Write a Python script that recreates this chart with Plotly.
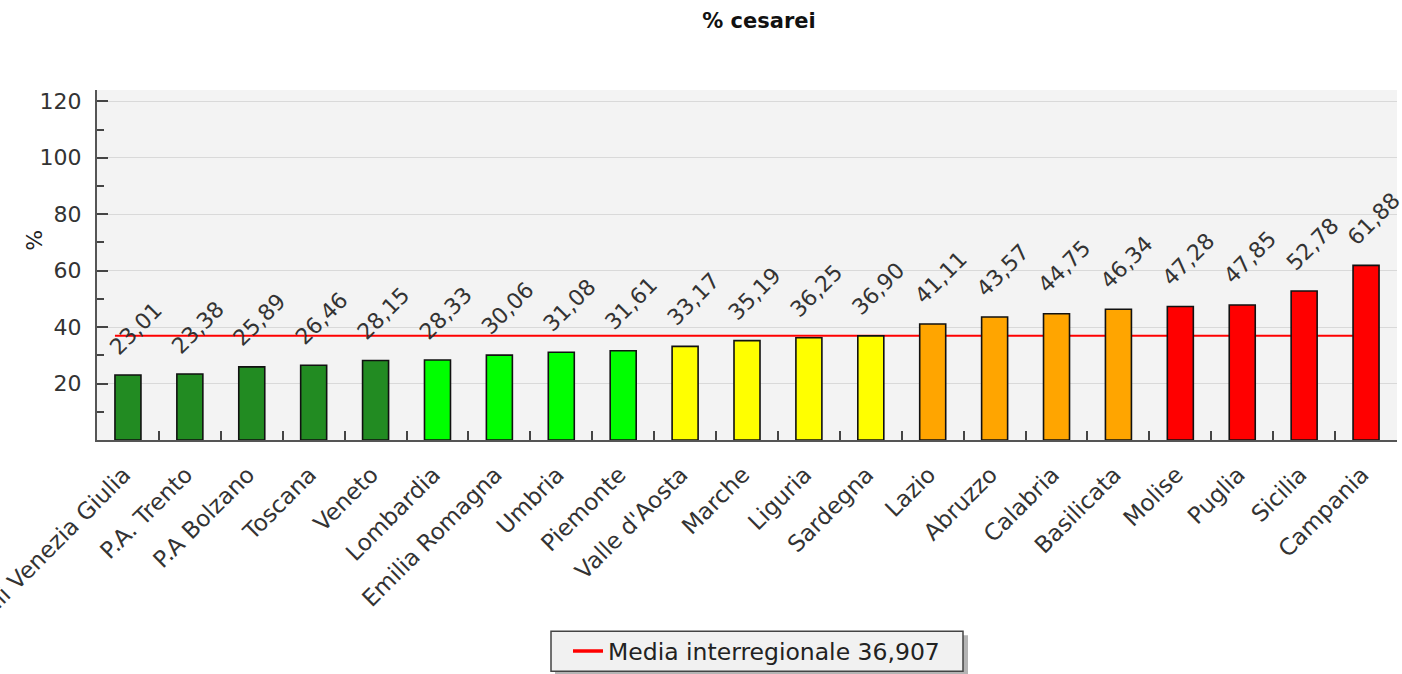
import plotly.graph_objects as go

categories = ["Friuli Venezia Giulia", "P.A. Trento", "P.A Bolzano", "Toscana", "Veneto",
              "Lombardia", "Emilia Romagna", "Umbria", "Piemonte", "Valle d'Aosta",
              "Marche", "Liguria", "Sardegna", "Lazio", "Abruzzo", "Calabria",
              "Basilicata", "Molise", "Puglia", "Sicilia", "Campania"]
values = [23.01, 23.38, 25.89, 26.46, 28.15, 28.33, 30.06, 31.08, 31.61, 33.17,
          35.19, 36.25, 36.90, 41.11, 43.57, 44.75, 46.34, 47.28, 47.85, 52.78, 61.88]
bar_colors = ["#228B22"] * 5 + ["#00FF00"] * 4 + ["#FFFF00"] * 4 + ["#FFA500"] * 4 + ["#FF0000"] * 4
mean_value = 36.907
mean_label = "Media interregionale 36,907"
y_tickvals = [20, 40, 60, 80, 100, 120]

FONT = "DejaVu Sans"
BAR_W = 0.42
# plot area in pixels
PL, PR, PT, PB = 97, 1397, 90, 440.5
PW, PH = PR - PL, PB - PT


def px_x(x):
    return (x - PL) / PW


def px_y(y):
    return (PB - y) / PH


def it(v, d=2):
    return f"{v:.{d}f}".replace(".", ",")


fig = go.Figure()
fig.add_trace(go.Bar(
    x=categories, y=values, width=BAR_W,
    marker=dict(color=bar_colors, line=dict(color="#111111", width=1.6)),
    showlegend=False, hoverinfo="x+y",
))
fig.add_trace(go.Scatter(
    x=[categories[0]], y=[None], mode="lines", name=mean_label,
    line=dict(color="#FF0000", width=3.5), showlegend=True,
))

fig.add_shape(type="line", xref="x", yref="y",
              x0=0 - BAR_W / 2, x1=len(categories) - 1 - BAR_W / 2,
              y0=mean_value, y1=mean_value,
              line=dict(color="#FF0000", width=2), layer="below")

for i, v in enumerate(values):
    fig.add_annotation(x=i, y=v, xref="x", yref="y", text=it(v), showarrow=False,
                       textangle=-45, xanchor="left", yanchor="bottom",
                       xshift=-26, yshift=13,
                       font=dict(family=FONT, size=22, color="#333333"))

# y axis title
fig.add_annotation(x=px_x(35), y=px_y(241), xref="paper", yref="paper", text="%",
                   showarrow=False, textangle=-90, xanchor="center", yanchor="middle",
                   font=dict(family=FONT, size=22, color="#222222"))

# legend frame + shadow
fig.add_shape(type="rect", xref="paper", yref="paper",
              x0=px_x(555), x1=px_x(968), y0=px_y(676), y1=px_y(636),
              fillcolor="#b4b4b4", line=dict(width=0), layer="above")
fig.add_shape(type="rect", xref="paper", yref="paper",
              x0=px_x(551), x1=px_x(963), y0=px_y(672), y1=px_y(632),
              fillcolor="#f1f1f1", line=dict(color="#444444", width=1.5), layer="above")

fig.update_layout(
    width=1402, height=674,
    margin=dict(l=PL, r=1402 - PR, t=PT, b=674 - PB, autoexpand=False),
    paper_bgcolor="white", plot_bgcolor="#f3f3f3",
    font=dict(family=FONT, size=22, color="#333333"),
    title=dict(text="<b>% cesarei</b>", x=px_x(759), xref="paper", xanchor="center",
               y=1 - 21 / 674, yref="container", yanchor="middle",
               font=dict(family=FONT, size=21, color="#111111")),
    showlegend=True,
    legend=dict(orientation="h", x=px_x(568), xanchor="left",
                y=px_y(652), yanchor="middle",
                bgcolor="rgba(0,0,0,0)", borderwidth=0,
                font=dict(family=FONT, size=23.5, color="#222222"), itemwidth=30),
)
fig.update_xaxes(type="category", range=[-0.5, len(categories) - 0.5],
                 tickson="boundaries", ticks="inside", ticklen=9, tickwidth=2, tickcolor="#444444",
                 tickangle=-45, ticklabelstandoff=10, ticklabelshift=-4, showgrid=False,
                 showline=True, linecolor="#555555", linewidth=2, automargin=False,
                 tickfont=dict(family=FONT, size=23, color="#333333"))
fig.update_yaxes(range=[0, 124], tickvals=y_tickvals, ticks="inside", ticklen=11, tickwidth=2,
                 tickcolor="#444444", showgrid=True, gridcolor="#d9d9d9", gridwidth=1,
                 zeroline=False, showline=True, linecolor="#555555", linewidth=2,
                 minor=dict(dtick=10, ticks="inside", ticklen=7, tickwidth=2, tickcolor="#444444", showgrid=False),
                 ticklabelstandoff=9, automargin=False,
                 tickfont=dict(family=FONT, size=22, color="#333333"))

fig.write_html("out.html", config={"displayModeBar": False},
               post_script="document.body.style.margin='0';")
